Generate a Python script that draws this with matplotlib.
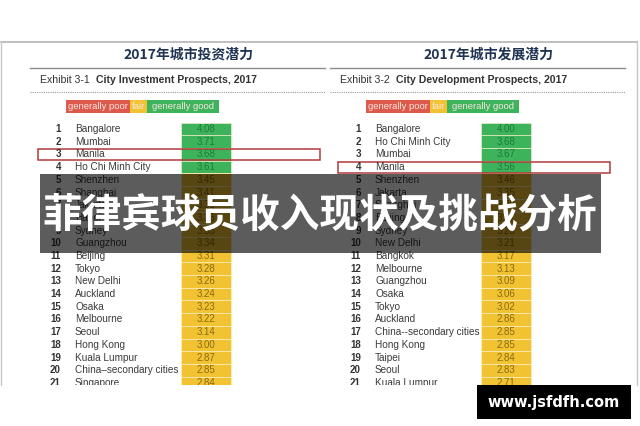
import matplotlib
matplotlib.use("Agg")
import matplotlib.pyplot as plt
from matplotlib.patches import Rectangle

# ---- data ----
inv_cities = ["Bangalore", "Mumbai", "Manila", "Ho Chi Minh City", "Shenzhen",
              "Shanghai", "Jakarta", "Hanoi", "Sydney", "Guangzhou", "Beijing",
              "Tokyo", "New Delhi", "Auckland", "Osaka", "Melbourne", "Seoul",
              "Hong Kong", "Kuala Lumpur", "China\u2013secondary cities", "Singapore"]
inv_values = [4.08, 3.71, 3.68, 3.61, 3.45, 3.41, 3.38, 3.36, 3.35, 3.34, 3.31,
              3.28, 3.26, 3.24, 3.23, 3.22, 3.14, 3.00, 2.87, 2.85, 2.84]

dev_cities = ["Bangalore", "Ho Chi Minh City", "Mumbai", "Manila", "Shenzhen",
              "Jakarta", "Shanghai", "Beijing", "Sydney", "New Delhi", "Bangkok",
              "Melbourne", "Guangzhou", "Osaka", "Tokyo", "Auckland",
              "China--secondary cities", "Hong Kong", "Taipei", "Seoul", "Kuala Lumpur"]
dev_values = [4.00, 3.68, 3.67, 3.56, 3.46, 3.35, 3.32, 3.27, 3.23, 3.21, 3.17,
              3.13, 3.09, 3.06, 3.02, 2.86, 2.85, 2.85, 2.84, 2.83, 2.71]

panel_titles = ["2017年城市投资潜力", "2017年城市发展潜力"]
exhibit_nums = ["Exhibit 3-1  ", "Exhibit 3-2  "]
exhibit_names = ["City Investment Prospects, 2017", "City Development Prospects, 2017"]
legend_labels = ["generally poor", "fair", "generally good"]
highlight_rank = [3, 4]   # Manila in each list

banner_text = "菲律宾球员收入现状及挑战分析"
watermark = "www.jsfdfh.com"

GREEN = "#3db35c"
YELLOW = "#f1c232"
RED = "#dc5a4c"
NAVY = "#1f3452"
CJK = ["Noto Sans CJK SC", "DejaVu Sans"]
NARROW = ["Liberation Sans Narrow", "Liberation Sans", "DejaVu Sans"]

fig = plt.figure(figsize=(6.4, 4.26), dpi=100)
fig.patch.set_facecolor("white")

# panel area in pixel coords (clipped at the bottom like the screenshot)
ax = fig.add_axes([0, 41 / 426, 1, 344 / 426])
ax.set_xlim(0, 640)
ax.set_ylim(385, 41)
ax.axis("off")

# frame
ax.plot([0.5, 637], [41.5, 41.5], color="#b4b4b4", lw=1.2, clip_on=False)
ax.plot([1, 1], [41, 385], color="#c8c8c8", lw=1.0, clip_on=False)
ax.plot([637, 637], [41, 385], color="#c8c8c8", lw=1.0, clip_on=False)

row0, row_h = 129.0, 12.7


def draw_panel(x0, cities, values, k):
    # x0 = left edge of the panel content
    ax.text(x0 + 148, 55, panel_titles[k], fontsize=10, fontweight="bold",
            family=CJK, color=NAVY, ha="center", va="center")
    ax.plot([x0 - 10, x0 + 285], [67.5, 67.5], color="#8c8c8c", lw=1.0)
    t = ax.text(x0, 80, exhibit_nums[k], fontsize=7.6, family="Liberation Sans",
                color="#333333", ha="left", va="center")
    fig.canvas.draw()
    bb = t.get_window_extent()
    inv = ax.transData.inverted()
    x_end = inv.transform((bb.x1, bb.y0))[0]
    ax.text(x_end, 80, exhibit_names[k], fontsize=7.6, fontweight="bold",
            family="Liberation Sans", color="#333333", ha="left", va="center")
    ax.plot([x0 - 10, x0 + 285], [92, 92], color="#9a9a9a", lw=0.8,
            linestyle=(0, (1, 1)))

    # legend strip
    widths = [64, 17, 72]
    cols = [RED, YELLOW, GREEN]
    lx = x0 + 26
    for lab, w, c in zip(legend_labels, widths, cols):
        ax.add_patch(Rectangle((lx, 100), w, 12.5, facecolor=c, edgecolor="none"))
        ax.text(lx + w / 2, 106.5, lab, fontsize=6.8, family="Liberation Sans",
                color="#fbe6e0", ha="center", va="center")
        lx += w

    # rows
    for i, (city, val) in enumerate(zip(cities, values)):
        y = row0 + i * row_h
        c = GREEN if val >= 3.5 else YELLOW
        tc = "#1f7a3a" if val >= 3.5 else "#8a6a12"
        ax.add_patch(Rectangle((x0 + 141, y - row_h / 2), 50, row_h,
                               facecolor=c, edgecolor="#fff4cc", lw=0.4))
        ax.text(x0 + 166, y, f"{val:.2f}", fontsize=7, family=NARROW,
                color=tc, ha="center", va="center", clip_on=True)
        ax.text(x0 + 21, y, str(i + 1), fontsize=7, family="Liberation Sans",
                fontweight="bold", color="#333333", ha="right", va="center",
                clip_on=True)
        ax.text(x0 + 35, y, city, fontsize=7.2, family=NARROW,
                color="#3a3a3a", ha="left", va="center", clip_on=True)

    hy = row0 + (highlight_rank[k] - 1) * row_h
    right = 320 if k == 0 else 610
    ax.add_patch(Rectangle((x0 - 2, hy - 5.5), right - (x0 - 2), 11,
                           facecolor="none", edgecolor="#b03a3a", lw=1.1))


draw_panel(40, inv_cities, inv_values, 0)
draw_panel(340, dev_cities, dev_values, 1)

# overlay: banner + watermark
ov = fig.add_axes([0, 0, 1, 1])
ov.set_xlim(0, 640)
ov.set_ylim(426, 0)
ov.axis("off")
ov.patch.set_alpha(0)
ov.add_patch(Rectangle((40, 174), 561, 79, facecolor="black", alpha=0.64,
                       edgecolor="none"))
ov.text(320, 216, banner_text, fontsize=28.5, fontweight="bold", family=CJK,
        color="white", ha="center", va="center")
ov.add_patch(Rectangle((477, 385), 154, 34, facecolor="black", edgecolor="none"))
ov.text(554, 402, watermark, fontsize=10.5, fontweight="bold",
        family="DejaVu Sans", color="white", ha="center", va="center")

fig.savefig("out.png", dpi=100)
